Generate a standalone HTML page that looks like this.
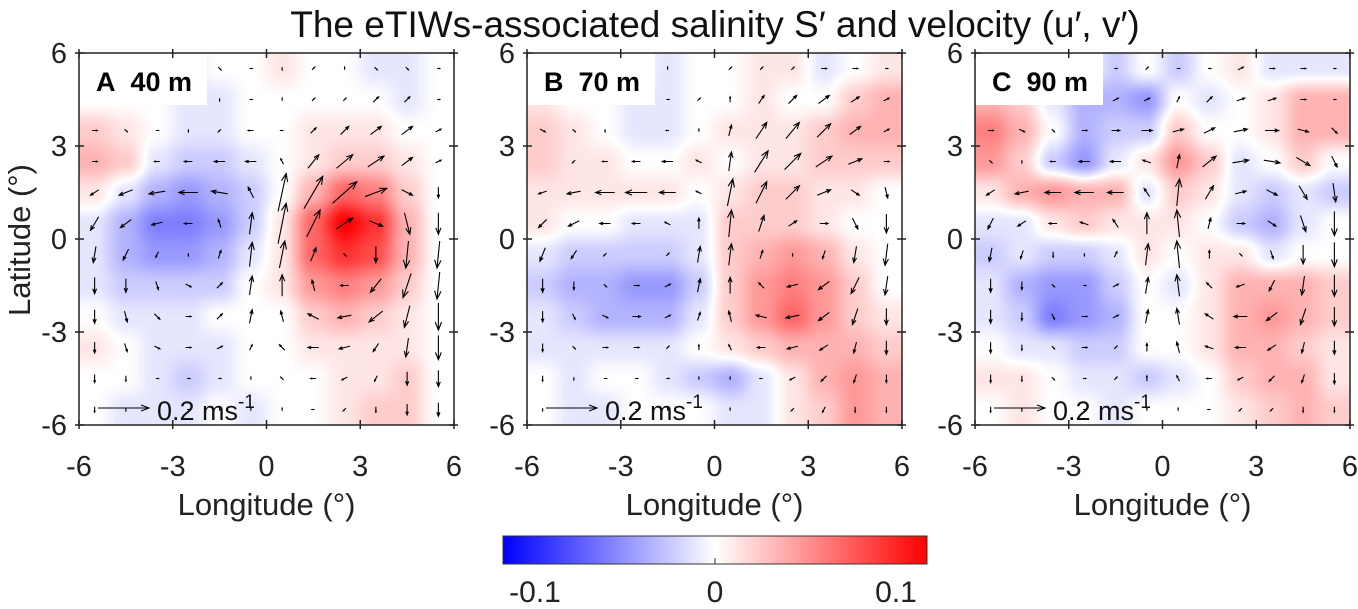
<!DOCTYPE html>
<html><head><meta charset="utf-8"><style>
body{margin:0;background:#fff;width:1358px;height:604px;overflow:hidden;font-family:"Liberation Sans",Arial,sans-serif}
</style></head><body>
<svg id="fig" width="1358" height="604" xmlns="http://www.w3.org/2000/svg" font-family="Liberation Sans, Arial, sans-serif">
<defs>
<linearGradient id="cbg" x1="0" x2="1" y1="0" y2="0">
<stop offset="0" stop-color="#0000ff"/><stop offset="0.5" stop-color="#ffffff"/><stop offset="1" stop-color="#ff0000"/>
</linearGradient>
</defs>
<text x="715" y="37" font-size="37" text-anchor="middle" fill="#111">The eTIWs-associated salinity S′ and velocity (u′, v′)</text>
<text transform="translate(30,240) rotate(-90)" font-size="31" text-anchor="middle" fill="#222">Latitude (°)</text>
<g id="panels"></g>
<rect x="503" y="536" width="424" height="28" fill="url(#cbg)" stroke="#333" stroke-width="1"/>
<line x1="715" y1="558" x2="715" y2="564" stroke="#333"/>
<text x="535" y="602" font-size="30" text-anchor="middle" fill="#222">-0.1</text>
<text x="715" y="602" font-size="30" text-anchor="middle" fill="#222">0</text>
<text x="896" y="602" font-size="30" text-anchor="middle" fill="#222">0.1</text>
</svg>
<script>
// grid centres (degrees)
const lons=[-5.5,-4.5,-3.5,-2.5,-1.5,-0.5,0.5,1.5,2.5,3.5,4.5,5.5];
const lats=[5.5,4.5,3.5,2.5,1.5,0.5,-0.5,-1.5,-2.5,-3.5,-4.5,-5.5];
const tickVals=[-6,-3,0,3,6];
const panelLabels=["A\u00a0\u00a040 m","B\u00a0\u00a070 m","C\u00a0\u00a090 m"];
const panelLeft=[79,527,975];
// salinity anomaly in 0.01 units
const sA=`0 0 0 -1 0 0 1 0 0 -1 -1 0
0 0 0 -1 -1 0 0 0 0 0 -1 0
2 1 0 -1 -1 0 0 1 1 1 0 0
3 2 -1 -2 -2 -1 0 1 2 2 1 0
1 -1 -3 -4 -3 -2 0 3 6 5 2 0
-1 -3 -5 -5 -4 -2 1 6 10 8 3 0
-1 -3 -4 -4 -3 -1 1 6 8 7 3 0
-1 -2 -2 -2 -2 0 1 4 5 4 2 0
0 -1 -1 -1 0 0 0 2 3 2 1 0
1 0 -1 -1 -1 0 0 1 1 1 1 0
0 0 -1 -2 -1 0 0 0 1 1 2 0
0 -1 -1 -1 0 -1 0 0 1 2 2 0`;
const sB=`0 0 0 0 -1 0 0 1 1 -1 0 1
1 0 0 -1 -1 0 0 1 0 0 2 3
2 1 0 -1 -1 0 1 1 1 2 3 3
2 1 1 0 0 1 0 1 1 2 2 2
1 1 1 1 1 0 1 2 2 1 1 0
1 0 0 -1 -1 -1 2 2 2 1 0 0
-1 -2 -2 -2 -2 -1 2 3 4 3 1 0
-2 -3 -3 -4 -4 -2 2 4 5 4 2 0
-1 -2 -3 -3 -3 -1 2 4 6 4 2 1
-1 -1 -1 -1 -1 0 1 2 3 3 3 2
0 -1 0 0 -1 -2 -3 -1 1 3 4 3
0 -1 -1 0 0 0 -1 -1 1 2 4 3`;
const sC=`0 0 0 0 -2 0 -2 0 1 -1 -1 -1
3 2 -1 -3 -3 -4 0 -1 0 1 3 3
5 3 0 -3 -2 -2 2 0 0 1 3 3
4 2 -2 -4 -1 1 4 2 -1 0 2 0
1 3 4 3 3 -1 2 1 -1 -2 -1 -2
-1 -1 1 2 1 1 1 0 -2 -3 -1 0
-2 -1 -2 -2 -1 1 0 1 1 -1 0 0
-1 -3 -4 -4 -2 0 -1 1 3 3 3 2
-1 -2 -5 -4 -3 0 0 1 3 4 3 2
0 -1 -1 -2 -2 0 0 1 3 3 2 1
1 1 0 -1 -1 -2 -1 0 2 3 3 1
0 1 0 0 -1 0 0 0 1 2 3 2`;
// velocity (u,v) in cm/s
const uvA=`1,-1 1,0 1,0 1,-1 1,-1 1,0 0,-1 1,1 0,1 1,-1 1,-1 1,0
2,0 2,0 1,0 1,-1 0,-1 1,0 0,1 1,1 1,1 2,2 2,2 1,0
2,0 1,-1 1,0 0,-1 -1,-1 -2,0 -1,0 2,2 3,3 4,3 4,3 2,1
2,0 0,0 -2,0 -3,0 -4,0 -4,0 -1,2 4,5 6,5 6,4 4,3 2,1
-3,-2 -5,-2 -6,-1 -7,0 -6,1 -2,4 3,14 7,12 9,8 8,3 4,-2 0,-4
-3,-5 -4,-3 -4,-1 -3,0 -1,3 1,8 3,15 5,10 6,4 5,-2 2,-8 0,-8
-1,-6 -2,-4 -1,-2 0,-1 1,3 1,9 2,10 2,5 1,-1 0,-6 -1,-10 -1,-10
0,-6 0,-5 1,-3 2,-1 2,2 1,7 0,8 -1,4 -3,0 -4,-5 -3,-9 -1,-10
0,-5 1,-4 2,-2 2,0 2,2 1,5 -1,4 -4,2 -5,-1 -5,-4 -2,-8 0,-10
0,-4 1,-3 2,-1 2,0 2,1 1,2 -2,2 -4,0 -4,-1 -2,-3 -1,-7 0,-9
0,-3 0,-2 1,0 1,0 1,0 0,1 -1,1 -2,0 -2,-1 -1,-2 0,-5 0,-6
0,-2 0,-1 0,0 1,0 0,1 0,1 0,1 -1,0 -1,-1 0,-2 0,-4 0,-5`;
const uvB=`1,0 1,0 0,1 1,1 0,1 0,0 1,1 1,1 1,1 2,0 2,0 1,0
1,0 1,0 0,0 0,1 1,0 1,1 0,2 2,3 3,3 4,3 3,2 2,1
2,-1 1,-1 0,-1 0,0 -1,0 0,1 1,4 4,6 5,6 5,5 4,3 2,1
0,0 -1,-1 -2,0 -3,0 -4,0 -2,1 1,7 5,8 6,6 6,4 5,2 2,0
-3,-1 -5,-1 -7,0 -8,0 -6,0 -2,1 2,10 4,8 5,5 5,2 3,-2 1,-4
-3,-3 -4,-2 -4,0 -3,0 -2,1 0,4 1,10 2,6 3,2 3,0 2,-4 0,-7
-2,-5 -2,-3 -1,-1 0,0 1,1 1,6 1,8 1,3 0,-1 -1,-3 -1,-6 -1,-8
0,-5 0,-3 1,-1 2,0 2,1 1,5 0,6 -2,2 -4,-1 -4,-3 -3,-6 -1,-7
0,-4 1,-2 2,-1 3,0 2,1 1,3 -1,4 -4,1 -5,-1 -4,-3 -2,-6 0,-6
0,-3 1,-1 2,0 2,0 1,1 0,2 -1,2 -3,0 -4,-1 -3,-2 -1,-4 0,-5
0,-2 0,-1 1,0 1,0 1,0 0,1 0,1 -1,0 -2,-1 -2,-2 -1,-3 0,-3
0,-1 0,0 0,0 1,0 0,1 0,0 0,1 0,0 -1,-1 -1,-2 0,-2 0,-2`;
const uvC=`1,0 1,0 0,0 1,0 1,0 1,1 1,0 1,0 2,1 2,0 2,0 1,0
2,0 1,-1 0,-1 1,0 2,1 2,1 1,2 2,2 3,1 3,1 2,0 1,0
2,0 2,-1 1,-1 2,0 3,0 4,0 4,1 4,2 5,1 5,0 4,-1 2,-2
1,-1 0,-1 -2,0 -4,0 -4,0 -3,1 1,5 5,4 6,1 6,-1 5,-3 2,-4
-3,-2 -5,-1 -6,0 -7,0 -6,0 -2,3 1,10 3,5 4,1 4,-2 3,-5 1,-7
-2,-4 -3,-2 -3,0 -3,1 -2,3 0,8 -1,10 1,4 3,0 3,-2 2,-6 0,-9
-1,-5 -1,-3 0,-2 0,-1 1,2 1,8 -1,10 0,3 1,-1 1,-3 0,-7 0,-9
0,-5 0,-3 1,-1 1,0 2,1 1,6 -1,8 -2,2 -3,-1 -2,-4 -1,-7 0,-8
0,-5 0,-3 1,-2 2,0 2,1 1,5 -1,6 -3,2 -5,0 -4,-3 -2,-6 0,-7
0,-4 0,-2 1,-1 2,0 1,1 0,3 -1,4 -3,1 -4,0 -3,-2 -1,-4 0,-5
0,-3 0,-2 1,-1 1,0 1,1 0,2 -1,2 -2,0 -2,-1 -2,-2 -1,-3 0,-4
0,-2 0,-1 0,0 1,0 0,0 0,1 0,1 -1,0 -1,-1 -1,-1 0,-2 0,-2`;
const sData=[sA,sB,sC], uvData=[uvA,uvB,uvC];

const NS="http://www.w3.org/2000/svg";
const PW=375, PT=53, PH=372;
function mk(tag,attrs,parent){const e=document.createElementNS(NS,tag);for(const k in attrs)e.setAttribute(k,attrs[k]);if(parent)parent.appendChild(e);return e;}
function parseS(t){return t.trim().split("\n").map(r=>r.trim().split(/\s+/).map(Number));}
function parseUV(t){return t.trim().split("\n").map(r=>r.trim().split(/\s+/).map(p=>p.split(",").map(Number)));}
function cmap(s){s=Math.max(-10,Math.min(10,s))/10;
 if(s>=0){const c=Math.round(255*(1-s));return [255,c,c];}
 const c=Math.round(255*(1+s));return [c,c,255];}
const root=document.getElementById("panels");
for(let p=0;p<3;p++){
 const L=panelLeft[p];
 const xS=lon=>L+(lon+6)/12*PW, yS=lat=>PT+(6-lat)/12*PH;
 const S=parseS(sData[p]), UV=parseUV(uvData[p]);
 const g=mk("g",{},root);
 
 
 const cv=document.createElement("canvas");cv.width=PW;cv.height=PH;
 const ctx=cv.getContext("2d");const im=ctx.createImageData(PW,PH);
 const sm=t=>t*t*(3-2*t);
 for(let py=0;py<PH;py++){
  const fy=Math.max(0,Math.min(10.999,(py+0.5)/PH*12-0.5));const j=Math.floor(fy),ty=sm(fy-j);
  for(let px=0;px<PW;px++){
   const fx=Math.max(0,Math.min(10.999,(px+0.5)/PW*12-0.5));const i=Math.floor(fx),tx=sm(fx-i);
   const v=(S[j][i]*(1-tx)+S[j][i+1]*tx)*(1-ty)+(S[j+1][i]*(1-tx)+S[j+1][i+1]*tx)*ty;
   const c=cmap(v);const k=(py*PW+px)*4;im.data[k]=c[0];im.data[k+1]=c[1];im.data[k+2]=c[2];im.data[k+3]=255;}}
 ctx.putImageData(im,0,0);
 const img=mk("image",{x:L,y:PT,width:PW,height:PH,href:cv.toDataURL()},g);
 
 
 const K=2.7;
 for(let j=0;j<12;j++)for(let i=0;i<12;i++){
  const u=UV[j][i][0],v=UV[j][i][1];
  const x0=xS(lons[i]),y0=yS(lats[j]);const dx=u*K,dy=-v*K;const len=Math.hypot(dx,dy);
  if(len<0.5)continue;
  const x1=x0-dx/2,y1=y0-dy/2,x2=x0+dx/2,y2=y0+dy/2;
  const ux=dx/len,uy=dy/len,h=Math.min(8,len*0.3);
  const a=mk("path",{d:`M${x1},${y1}L${x2},${y2}M${x2-h*ux+h*0.4*uy},${y2-h*uy-h*0.4*ux}L${x2},${y2}L${x2-h*ux-h*0.4*uy},${y2-h*uy+h*0.4*ux}`,stroke:"#000","stroke-width":1.1,fill:"none"},g);
  
  
 }
 const lb=mk("rect",{x:L,y:PT,width:128,height:52,fill:"#fff"},g);
 
 
 const lt=mk("text",{x:L+17,y:PT+38,"font-size":27,"font-weight":"bold",fill:"#000"},g);lt.textContent=panelLabels[p];
 
 
 const qk=mk("path",{d:`M${L+19},408L${L+70},408M${L+62},405L${L+70},408L${L+62},411`,stroke:"#000","stroke-width":1,fill:"none"},g);
 
 
 const qt=mk("text",{x:L+78,y:420,"font-size":27,fill:"#111"},g);qt.innerHTML='0.2 ms<tspan dy="-12" font-size="19">-1</tspan>';
 
 
 const bx=mk("rect",{x:L,y:PT,width:PW,height:PH,fill:"none",stroke:"#222","stroke-width":1.5},g);
 
 
 for(const t of tickVals){
  const x=xS(t),y=yS(t);
  mk("path",{d:`M${x},${PT+PH+4}V${PT+PH-5}M${x},${PT-4}V${PT+5}M${L-4},${y}H${L+5}M${L+PW+4},${y}H${L+PW-5}`,stroke:"#222","stroke-width":1.5},g);
  const xl=mk("text",{x:x,y:476,"font-size":29,"text-anchor":"middle",fill:"#222"},g);xl.textContent=t;
  
  
  const yl=mk("text",{x:L-12,y:y+10,"font-size":29,"text-anchor":"end",fill:"#222"},g);yl.textContent=t;
  
  
 }
 const xt=mk("text",{x:L+PW/2,y:515,"font-size":31,"text-anchor":"middle",fill:"#222"},g);xt.textContent="Longitude (°)";
 
 
}
</script>
</body></html>
